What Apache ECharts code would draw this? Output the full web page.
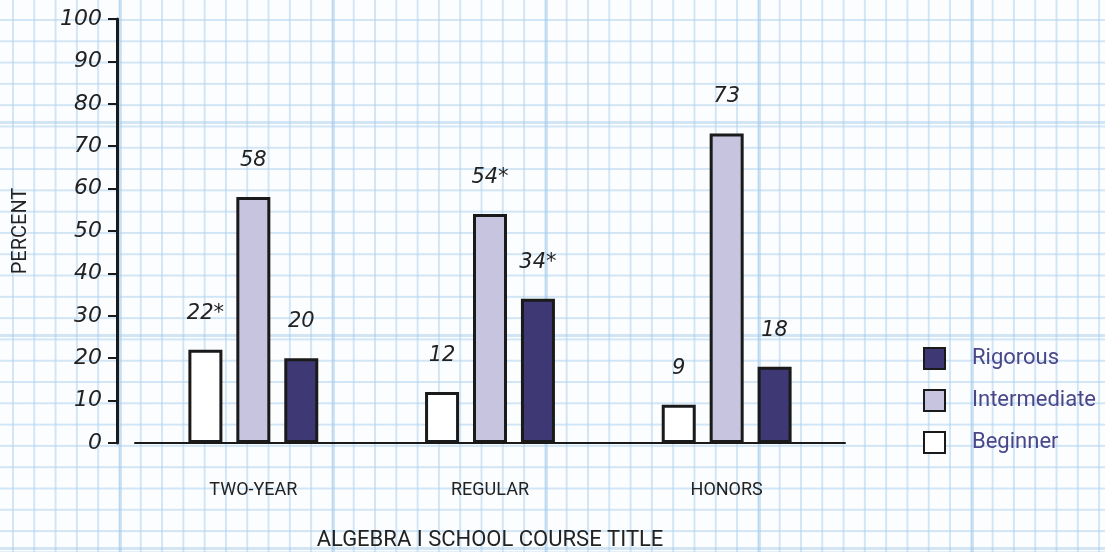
<!DOCTYPE html>
<html>
<head>
<meta charset="utf-8">
<script src="https://cdn.jsdelivr.net/npm/echarts@6/dist/echarts.min.js"></script>
<style>
  html, body { margin: 0; padding: 0; }
  body {
    width: 1105px;
    height: 552px;
    background-color: #fbfdff;
    background-image:
      linear-gradient(to right, rgba(160, 200, 232, 0.45) 3px, transparent 3px),
      linear-gradient(to bottom, rgba(160, 200, 232, 0.45) 3px, transparent 3px),
      linear-gradient(to right, rgba(175, 210, 238, 0.55) 1.5px, transparent 1.5px),
      linear-gradient(to bottom, rgba(175, 210, 238, 0.55) 1.5px, transparent 1.5px);
    background-size: 213px 213px, 213px 213px, 21.3px 21.3px, 21.3px 21.3px;
    background-position: 119px 0, 0 121px, 12px 0, 0 19px;
  }
  #chart { width: 1105px; height: 552px; }
</style>
</head>
<body>
<div id="chart"></div>
<script>
const categories = ['TWO-YEAR', 'REGULAR', 'HONORS']
const beginner = [22, 12, 9]
const intermediate = [58, 54, 73]
const rigorous = [20, 34, 18]
// asterisk marks next to some values
const beginnerNotes = ['*', '', '']
const intermediateNotes = ['', '*', '']
const rigorousNotes = ['', '*', '']
const yTicks = [0, 10, 20, 30, 40, 50, 60, 70, 80, 90, 100]

const handFont = '"DejaVu Sans", sans-serif'
const textFont = 'Roboto, sans-serif'

function barSeries(name, data, notes, color) {
  return {
    name,
    type: 'bar',
    data,
    barWidth: 34,
    barGap: '41%',
    itemStyle: {
      color,
      borderColor: '#1a1a1a',
      borderWidth: 3
    },
    label: {
      show: true,
      position: 'top',
      distance: 26,
      formatter: (p) => p.value + notes[p.dataIndex],
      fontFamily: handFont,
      fontStyle: 'italic',
      fontSize: 21,
      color: '#222'
    }
  }
}

const chart = echarts.init(document.getElementById('chart'))
chart.setOption({
  backgroundColor: 'transparent',
  animation: false,
  grid: { left: 135, right: 260, top: 19, bottom: 109, outerBoundsMode: 'none' },
  legend: {
    orient: 'vertical',
    left: 918,
    top: 342,
    itemWidth: 21,
    itemHeight: 21,
    itemGap: 19,
    icon: 'rect',
    data: ['Rigorous', 'Intermediate', 'Beginner'],
    textStyle: {
      fontFamily: textFont,
      fontSize: 22,
      color: '#4b4688',
      padding: [0, 0, 0, 22]
    }
  },
  xAxis: {
    type: 'category',
    data: categories,
    name: 'ALGEBRA I SCHOOL COURSE TITLE',
    nameLocation: 'middle',
    nameGap: 86,
    nameTextStyle: { fontFamily: textFont, fontSize: 22, color: '#222' },
    axisLine: { lineStyle: { color: '#1a1a1a', width: 2 } },
    axisTick: { show: false },
    axisLabel: { margin: 38, fontFamily: textFont, fontSize: 18, color: '#222' }
  },
  yAxis: {
    type: 'value',
    min: 0,
    max: 100,
    interval: 10,
    offset: 18,
    name: 'PERCENT',
    nameLocation: 'middle',
    nameGap: 86,
    nameTextStyle: { fontFamily: textFont, fontSize: 20, color: '#222' },
    axisLine: { show: true, lineStyle: { color: '#1a1a1a', width: 3 } },
    axisTick: { show: true, inside: false, length: 9, lineStyle: { color: '#1a1a1a', width: 2 } },
    axisLabel: {
      margin: 15,
      fontFamily: handFont,
      fontStyle: 'italic',
      fontSize: 22,
      color: '#222',
      formatter: (v) => yTicks.includes(v) ? String(v) : ''
    },
    splitLine: { show: false }
  },
  series: [
    barSeries('Beginner', beginner, beginnerNotes, '#ffffff'),
    barSeries('Intermediate', intermediate, intermediateNotes, '#c6c4de'),
    barSeries('Rigorous', rigorous, rigorousNotes, '#3e3874')
  ]
})
</script>
</body>
</html>
